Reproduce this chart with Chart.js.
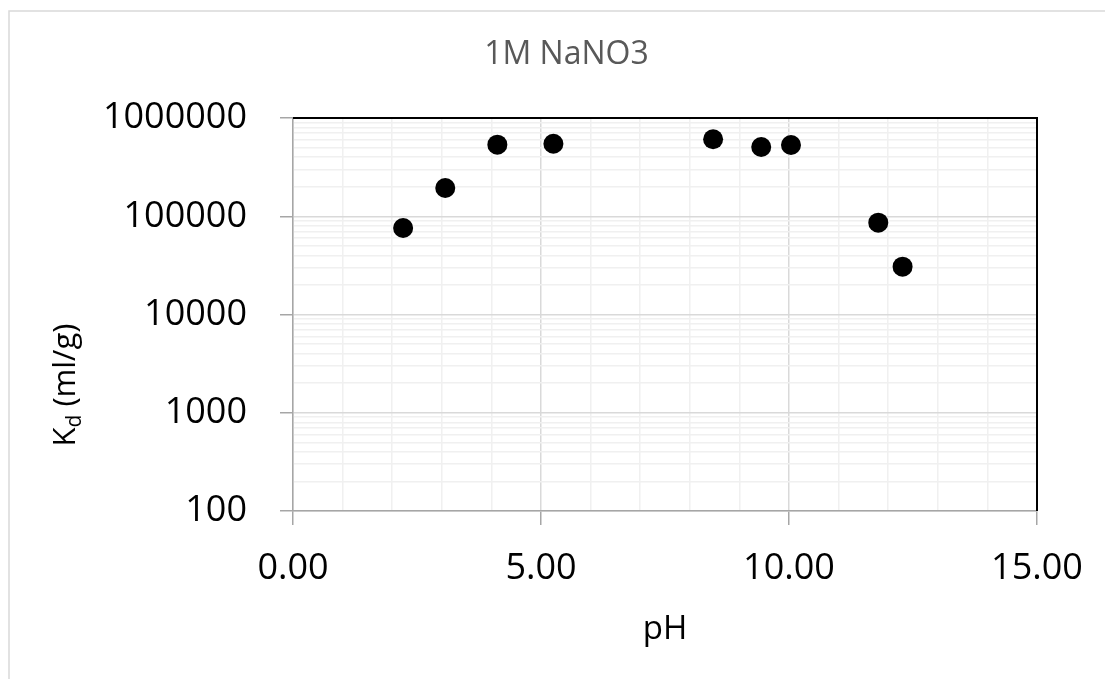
<!DOCTYPE html>
<html>
<head>
<meta charset="utf-8">
<script src="https://cdn.jsdelivr.net/npm/chart.js@4.4.1/dist/chart.umd.min.js"></script>
<style>
  html, body { margin: 0; padding: 0; background: #ffffff; }
  #wrap { width: 1105px; height: 679px; position: relative; }
</style>
</head>
<body>
<div id="wrap"><canvas id="c" width="1105" height="679"></canvas></div>
<script>
// ---- data ----
const titleText = '1M NaNO3';
const xTitle = 'pH';
const yTitleMain = 'K';
const yTitleSub = 'd';
const yTitleRest = ' (ml/g)';
const pH = [2.22, 3.07, 4.12, 5.25, 8.47, 9.44, 10.04, 11.80, 12.29];
const Kd = [76000, 194000, 535000, 547000, 607000, 507000, 531000, 86000, 30700];
const yDecades = [100, 1000, 10000, 100000, 1000000];
const xMin = 0, xMax = 15, xMajorStep = 5, xMinorStep = 1;

const FONT = "'Open Sans', 'DejaVu Sans', sans-serif";

const yTickValues = [];
yDecades.forEach((d, i) => {
  if (i === yDecades.length - 1) { yTickValues.push(d); return; }
  for (let k = 1; k <= 9; k++) yTickValues.push(d * k);
});
const isDecade = v => yDecades.some(d => Math.abs(d - v) < 1e-6 * d);
const isXMajor = v => Math.abs(v / xMajorStep - Math.round(v / xMajorStep)) < 1e-9;

const framePlugin = {
  id: 'frame',
  beforeDraw(chart) {
    const ctx = chart.ctx;
    ctx.save();
    ctx.fillStyle = '#ffffff';
    ctx.fillRect(0, 0, chart.width, chart.height);
    ctx.strokeStyle = '#d9d9d9';
    ctx.lineWidth = 1.5;
    ctx.strokeRect(9, 11, chart.width + 20, chart.height + 20);
    ctx.restore();
  },
  afterDraw(chart) {
    const ctx = chart.ctx;
    const a = chart.chartArea;
    ctx.save();
    // top and right plot-area border lines (dark)
    ctx.strokeStyle = '#000000';
    ctx.lineWidth = 2;
    ctx.beginPath();
    ctx.moveTo(a.left, a.top);
    ctx.lineTo(a.right, a.top);
    ctx.lineTo(a.right, a.bottom);
    ctx.stroke();
    // y-axis title with subscript
    const size = 31;
    const subSize = 21;
    const cx = 75, cy = 385;
    ctx.translate(cx, cy);
    ctx.rotate(-Math.PI / 2);
    ctx.fillStyle = '#000000';
    ctx.textBaseline = 'alphabetic';
    ctx.textAlign = 'left';
    ctx.font = size + 'px ' + FONT;
    const w1 = ctx.measureText(yTitleMain).width;
    const w3 = ctx.measureText(yTitleRest).width;
    ctx.font = subSize + 'px ' + FONT;
    const w2 = ctx.measureText(yTitleSub).width;
    const total = w1 + w2 + w3;
    let x = -total / 2;
    ctx.font = size + 'px ' + FONT;
    ctx.fillText(yTitleMain, x, 0);
    x += w1;
    ctx.font = subSize + 'px ' + FONT;
    ctx.fillText(yTitleSub, x, 6);
    x += w2;
    ctx.font = size + 'px ' + FONT;
    ctx.fillText(yTitleRest, x, 0);
    ctx.restore();
  }
};

new Chart(document.getElementById('c'), {
  type: 'scatter',
  data: {
    datasets: [{
      data: pH.map((v, i) => ({ x: v, y: Kd[i] })),
      backgroundColor: '#000000',
      borderColor: '#000000',
      pointRadius: 10,
      pointHoverRadius: 10,
      borderWidth: 0
    }]
  },
  options: {
    responsive: false,
    animation: false,
    devicePixelRatio: 1,
    layout: { padding: { left: 96, right: 68, top: 0, bottom: 0 } },
    plugins: {
      legend: { display: false },
      tooltip: { enabled: false },
      title: {
        display: true,
        text: titleText,
        color: '#595959',
        font: { family: FONT, size: 32, weight: 'normal' },
        padding: { top: 36, bottom: 43.6 }
      }
    },
    scales: {
      x: {
        type: 'linear',
        min: xMin,
        max: xMax,
        afterBuildTicks(scale) {
          const t = [];
          for (let v = xMin; v <= xMax + 1e-9; v += xMinorStep) t.push({ value: v });
          scale.ticks = t;
        },
        afterFit(scale) { scale.height = 168; },
        ticks: {
          autoSkip: false,
          maxRotation: 0,
          padding: 22,
          color: '#000000',
          font: { family: FONT, size: 36 },
          callback: v => isXMajor(v) ? Number(v).toFixed(2) : ''
        },
        grid: {
          color: c => (c.tick && isXMajor(c.tick.value)) ? '#d9d9d9' : '#f0f0f0',
          lineWidth: 1.5,
          tickLength: 14,
          tickColor: c => (c.tick && isXMajor(c.tick.value)) ? '#a6a6a6' : 'rgba(0,0,0,0)',
          tickWidth: 1.5
        },
        border: { display: true, color: '#a6a6a6', width: 1.5 },
        title: {
          display: true,
          text: xTitle,
          color: '#000000',
          font: { family: FONT, size: 33 },
          padding: { top: 0, bottom: 30 }
        }
      },
      y: {
        type: 'logarithmic',
        min: 100,
        max: 1000000,
        afterBuildTicks(scale) {
          scale.ticks = yTickValues.map(v => ({ value: v, major: isDecade(v) }));
        },
        afterFit(scale) { scale.width = 197; },
        ticks: {
          autoSkip: false,
          padding: 33,
          color: '#000000',
          font: { family: FONT, size: 36 },
          callback: v => isDecade(v) ? String(Math.round(v)) : ''
        },
        grid: {
          color: c => (c.tick && isDecade(c.tick.value)) ? '#d9d9d9' : '#f0f0f0',
          lineWidth: 1.5,
          tickLength: 13,
          tickColor: c => (c.tick && isDecade(c.tick.value)) ? '#a6a6a6' : 'rgba(0,0,0,0)',
          tickWidth: 1.5
        },
        border: { display: true, color: '#a6a6a6', width: 1.5 },
        title: { display: false }
      }
    }
  },
  plugins: [framePlugin]
});
</script>
</body>
</html>
